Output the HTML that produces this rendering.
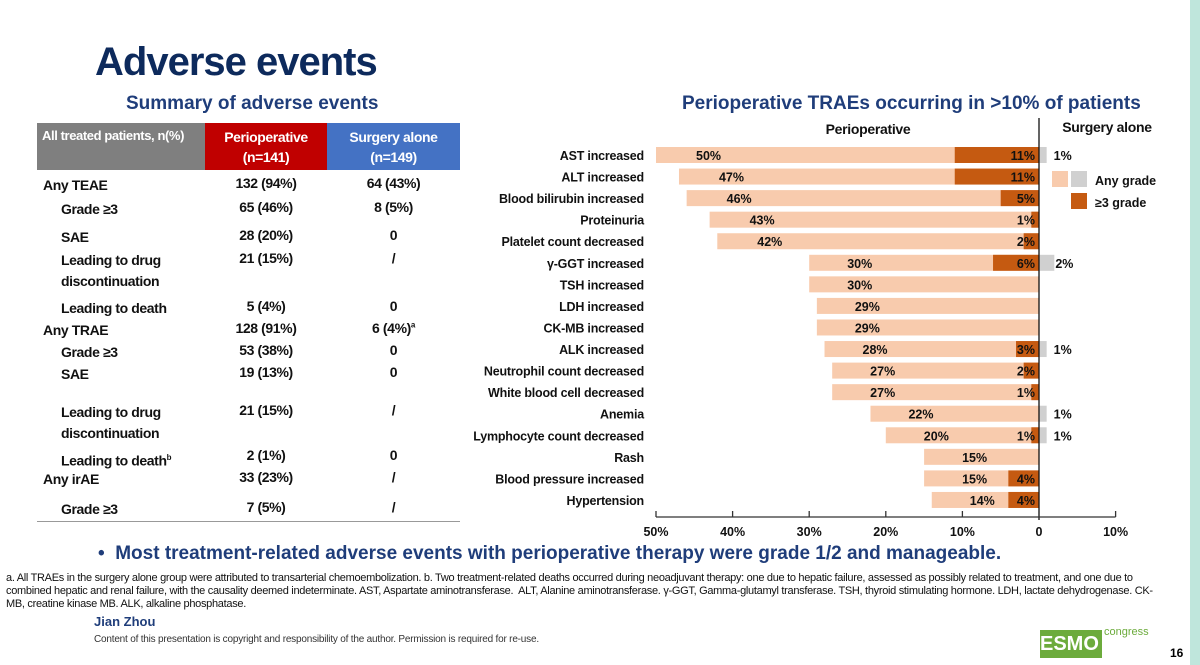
<!DOCTYPE html>
<html><head><meta charset="utf-8"><style>
body{margin:0;width:1200px;height:665px;overflow:hidden;background:#fff;font-family:"Liberation Sans",Arial,sans-serif;position:relative}
.a{position:absolute;white-space:nowrap}
.t{position:absolute;font-size:14px;color:#111;font-weight:bold;letter-spacing:-0.4px}
</style></head><body>
<div class="a" style="left:1190px;top:0;width:10px;height:665px;background:#bfe6dc"></div>
<div class="a" style="left:95px;top:40px;font-size:40px;font-weight:bold;color:#0d2a5c;letter-spacing:-1px">Adverse events</div>
<div class="a" style="left:126px;top:93px;font-size:19px;font-weight:bold;color:#1f3d7a">Summary of adverse events</div>
<div class="a" style="left:682px;top:93px;font-size:19px;font-weight:bold;color:#1f3d7a">Perioperative TRAEs occurring in &gt;10% of patients</div>

<div>
<div class="a" style="left:37px;top:123px;width:168px;height:47px;background:#7f7f7f;color:#fff;font-weight:bold;font-size:13px;letter-spacing:-0.4px;line-height:26px;padding-left:5px;box-sizing:border-box">All treated patients, n(%)</div>
<div class="a" style="left:205px;top:123px;width:122px;height:47px;background:#c00000;color:#fff;font-weight:bold;font-size:14px;letter-spacing:-0.4px;text-align:center;line-height:20px;padding-top:4px;box-sizing:border-box">Perioperative<br>(n=141)</div>
<div class="a" style="left:327px;top:123px;width:133px;height:47px;background:#4472c4;color:#fff;font-weight:bold;font-size:14px;letter-spacing:-0.4px;text-align:center;line-height:20px;padding-top:4px;box-sizing:border-box">Surgery alone<br>(n=149)</div>
<div id="rows"></div>
</div>

<svg class="a" style="left:0;top:0" width="1200" height="665" id="chart"></svg>

<div class="a" style="left:98px;top:543px;font-size:19px;font-weight:bold;color:#1f3d7a">•&nbsp; Most treatment-related adverse events with perioperative therapy were grade 1/2 and manageable.</div>
<div class="a" style="left:6px;top:572px;width:1150px;white-space:normal;font-size:11px;line-height:13px;color:#111;letter-spacing:-0.3px">a. All TRAEs in the surgery alone group were attributed to transarterial chemoembolization. b. Two treatment-related deaths occurred during neoadjuvant therapy: one due to hepatic failure, assessed as possibly related to treatment, and one due to combined hepatic and renal failure, with the causality deemed indeterminate. AST, Aspartate aminotransferase.&nbsp; ALT, Alanine aminotransferase. γ-GGT, Gamma-glutamyl transferase. TSH, thyroid stimulating hormone. LDH, lactate dehydrogenase. CK-MB, creatine kinase MB. ALK, alkaline phosphatase.</div>
<div class="a" style="left:94px;top:614px;font-size:13px;font-weight:bold;color:#1f3d7a">Jian Zhou</div>
<div class="a" style="left:94px;top:634px;font-size:10px;color:#333;letter-spacing:-0.2px">Content of this presentation is copyright and responsibility of the author. Permission is required for re-use.</div>
<div class="a" style="left:1040px;top:630px;width:62px;height:28px;background:#6cab3c;color:#fff;font-weight:bold;font-size:20px;line-height:28px;text-align:right;padding-right:4px;box-sizing:border-box">ESMO</div>
<div class="a" style="left:1104px;top:626px;font-size:11px;color:#6cab3c">congress</div>
<div class="a" style="left:1170px;top:646px;font-size:12px;font-weight:bold">16</div>

<script>
const tableRows=[["Any TEAE","132 (94%)","64 (43%)",0,183],["Grade ≥3","65 (46%)","8 (5%)",1,207],["SAE","28 (20%)","0",1,235],["Leading to drug<br>discontinuation","21 (15%)","/",1,258],["Leading to death","5 (4%)","0",1,306],["Any TRAE","128 (91%)","6 (4%)<sup style='font-size:8px'>a</sup>",0,328],["Grade ≥3","53 (38%)","0",1,350],["SAE","19 (13%)","0",1,372],["Leading to drug<br>discontinuation","21 (15%)","/",1,410],["Leading to death<sup style='font-size:8px'>b</sup>","2 (1%)","0",1,455],["Any irAE","33 (23%)","/",0,477],["Grade ≥3","7 (5%)","/",1,507]];
const R=document.getElementById('rows');
tableRows.forEach((r,i)=>{
 const d=document.createElement('div');
 
 
 d.innerHTML=`<div class="t" style="left:${r[3]?61:43}px;top:${r[4]-8}px;line-height:21px">${r[0]}</div><div class="t" style="left:205px;width:122px;text-align:center;top:${r[4]-8}px">${r[1]}</div><div class="t" style="left:327px;width:133px;text-align:center;top:${r[4]-8}px">${r[2]}</div>`;
 R.appendChild(d);
});
const bl=document.createElement('div');bl.className='a';


bl.style.cssText='left:37px;top:521px;width:423px;height:1px;background:#999';R.appendChild(bl);

const categories=["AST increased","ALT increased","Blood bilirubin increased","Proteinuria","Platelet count decreased","γ-GGT increased","TSH increased","LDH increased","CK-MB increased","ALK increased","Neutrophil count decreased","White blood cell decreased","Anemia","Lymphocyte count decreased","Rash","Blood pressure increased","Hypertension"];
const periAny=[50,47,46,43,42,30,30,29,29,28,27,27,22,20,15,15,14];
const periG3=[11,11,5,1,2,6,0,0,0,3,2,1,0,1,0,4,4];
const surgAny=[1,0,0,0,0,2,0,0,0,1,0,0,1,1,0,0,0];
const xTicks=[-50,-40,-30,-20,-10,0,10];
const x0=1039,ppu=7.66,y0=155,step=21.56,bh=16;
const X=v=>x0+v*ppu, Y=i=>y0+i*step;
const S=document.getElementById('chart'),NS='http://www.w3.org/2000/svg';
function el(t,a,txt){const e=document.createElementNS(NS,t);for(const k in a)e.setAttribute(k,a[k]);if(txt!=null)e.textContent=txt;S.appendChild(e);return e;}
categories.forEach((c,i)=>{
 const y=Y(i);
 let e=el('text',{x:644,y:y+5,'text-anchor':'end','font-size':12.5,'font-weight':'bold',fill:'#111','letter-spacing':'-0.2'},c);
 
 e=el('rect',{x:X(-periAny[i]),y:y-bh/2,width:periAny[i]*ppu,height:bh,fill:'#f8cbad'});
 
 e=el('text',{x:X(-periAny[i])+(periAny[i]>40?40:38),y:y+5,'font-size':12.5,'font-weight':'bold',fill:'#111'},periAny[i]+'%');
 
 if(periG3[i]>0){
  e=el('rect',{x:X(-periG3[i]),y:y-bh/2,width:periG3[i]*ppu,height:bh,fill:'#c55a11'});
  
  e=el('text',{x:X(0)-4,y:y+5,'text-anchor':'end','font-size':12.5,'font-weight':'bold',fill:'#111'},periG3[i]+'%');
  
 }
 if(surgAny[i]>0){
  e=el('rect',{x:X(0),y:y-bh/2,width:surgAny[i]*ppu,height:bh,fill:'#d0d0d0'});
  
  e=el('text',{x:X(surgAny[i])+(surgAny[i]>1?1:7),y:y+5,'font-size':12.5,'font-weight':'bold',fill:'#111'},surgAny[i]+'%');
  
 }
});
let e=el('line',{x1:X(0),x2:X(0),y1:118,y2:520,stroke:'#111','stroke-width':1.3});

e=el('line',{x1:X(-50),x2:X(10),y1:517,y2:517,stroke:'#333','stroke-width':1.3});

xTicks.forEach(t=>{
 let k=el('line',{x1:X(t),x2:X(t),y1:517,y2:511,stroke:'#333','stroke-width':1.3});
 
 k=el('text',{x:X(t),y:536,'text-anchor':'middle','font-size':12.5,'font-weight':'bold',fill:'#111'},t===0?'0':Math.abs(t)+'%');
 
});
e=el('text',{x:868,y:134,'text-anchor':'middle','font-size':14,'font-weight':'bold',fill:'#111','letter-spacing':'-0.3'},'Perioperative');

e=el('text',{x:1107,y:132,'text-anchor':'middle','font-size':14,'font-weight':'bold',fill:'#111','letter-spacing':'-0.3'},'Surgery alone');

e=el('rect',{x:1052,y:171,width:16,height:16,fill:'#f8cbad'});
e=el('rect',{x:1071,y:171,width:16,height:16,fill:'#d0d0d0'});
e=el('rect',{x:1071,y:193,width:16,height:16,fill:'#c55a11'});
e=el('text',{x:1095,y:185,'font-size':12.5,'font-weight':'bold',fill:'#111'},'Any grade');
e=el('text',{x:1095,y:207,'font-size':12.5,'font-weight':'bold',fill:'#111'},'≥3 grade');
</script>
</body></html>
